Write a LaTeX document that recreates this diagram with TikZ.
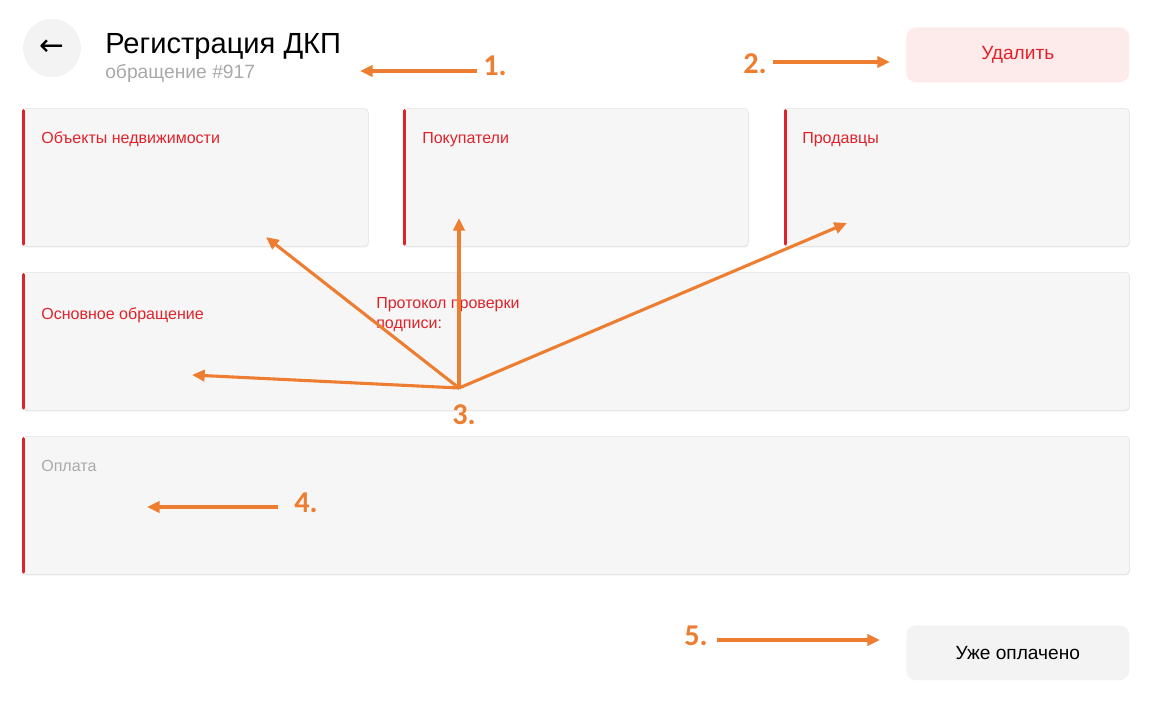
\documentclass[tikz,border=0pt]{standalone}
\usepackage{fontspec}
\setmainfont{Liberation Sans}
\newfontfamily\numfont{Carlito}
\newfontfamily\symfont{DejaVu Sans}
\usetikzlibrary{positioning,arrows.meta,shadows}
\definecolor{uired}{HTML}{E0232B}
\definecolor{cardbg}{HTML}{F6F6F6}
\definecolor{cardline}{HTML}{E3E3E3}
\definecolor{calloutorange}{HTML}{ED7D31}
\definecolor{pinkbg}{HTML}{FDEAEB}
\definecolor{subgray}{HTML}{A9A9A9}
\definecolor{backbg}{HTML}{F3F3F3}
\tikzset{
  card/.style={draw=cardline, fill=cardbg, rounded corners=3pt, anchor=north west, inner sep=0pt,
    minimum height=3.45cm, drop shadow={shadow xshift=0.2pt, shadow yshift=-0.8pt, fill=black!35, opacity=0.25}},
  redbar/.style={uired, line width=2.2pt, line cap=round},
  cardtitle/.style={anchor=base west, inner sep=0pt, text=uired, font=\fontsize{11.4}{13}\selectfont},
  btn/.style={rounded corners=7pt, anchor=north west, minimum width=5.575cm, minimum height=1.375cm,
    inner sep=0pt, font=\fontsize{13.6}{15}\selectfont},
  backbtn/.style={circle, fill=backbg, minimum size=1.45cm, inner sep=0pt, font=\symfont\fontsize{21}{22}\selectfont},
  callout/.style={calloutorange, line width=2.2pt, -{Triangle[length=9pt,width=8pt]}},
  num/.style={text=calloutorange, font=\numfont\bfseries\fontsize{21.5}{24}\selectfont, inner sep=0pt, anchor=base west},
}
\begin{document}
\begin{tikzpicture}[x=0.025cm,y=-0.025cm]
  \useasboundingbox (0,0) rectangle (1160,704);
  % header
  \node[backbtn] (back) at (52,48) {←};
  \node[anchor=base west, inner sep=0pt, font=\fontsize{20.7}{24}\selectfont] (title) at (105,53) {Регистрация ДКП};
  \node[anchor=base west, inner sep=0pt, text=subgray, font=\fontsize{13.7}{16}\selectfont] (sub) at (105,78) {обращение \#917};
  \node[btn, fill=pinkbg, text=uired] (del) at (906,27) {Удалить};
  % cards
  \node[card, minimum width=8.65cm] (obj) at (22,108) {};
  \node[card, minimum width=8.625cm] (pok) at (403,108) {};
  \node[card, minimum width=8.625cm] (prod) at (784,108) {};
  \node[card, minimum width=27.675cm] (main) at (22,272) {};
  \node[card, minimum width=27.675cm] (pay) at (22,436) {};
  \foreach \c in {obj,pok,prod,main,pay}
    \draw[redbar] ([xshift=1pt,yshift=-1.8pt]\c.north west) -- ([xshift=1pt,yshift=1.8pt]\c.south west);
  \node[cardtitle] (objt) at ([shift={(19,35)}]obj.north west) {Объекты недвижимости};
  \node[cardtitle] (pokt) at ([shift={(19,35)}]pok.north west) {Покупатели};
  \node[cardtitle] (prodt) at ([shift={(18,35)}]prod.north west) {Продавцы};
  \node[cardtitle] (maint) at ([shift={(19,47)}]main.north west) {Основное обращение};
  \node[cardtitle, anchor=north west, align=left] (proto) at ([shift={(354,25)}]main.north west) {Протокол проверки\\[1pt]подписи:};
  \node[cardtitle, text=subgray] (payt) at ([shift={(19,35)}]pay.north west) {Оплата};
  \node[btn, fill=backbg] (paid) at (906,625) {Уже оплачено};
  % callouts
  \coordinate (t1) at (477,71); \coordinate (h1) at (360,71);
  \coordinate (t2) at (773,62); \coordinate (h2) at (890,62);
  \coordinate (o3) at (459,388);
  \coordinate (h3a) at (266,237); \coordinate (h3b) at (459,218);
  \coordinate (h3c) at (847,223); \coordinate (h3d) at (192,375);
  \coordinate (t4) at (278,507); \coordinate (h4) at (147,507);
  \coordinate (t5) at (717,640); \coordinate (h5) at (880,640);
  \draw[callout] (t1) -- (h1);
  \draw[callout] (t2) -- (h2);
  \foreach \h in {h3a,h3b,h3c,h3d}
    \draw[callout] (o3) -- (\h);
  \draw[callout] (t4) -- (h4);
  \draw[callout] (t5) -- (h5);
  \node[num] (n1) at (483,75) {1.};
  \node[num] (n2) at (743,73) {2.};
  \node[num] (n3) at (452,424) {3.};
  \node[num] (n4) at (294,512) {4.};
  \node[num] (n5) at (684,645) {5.};
\end{tikzpicture}
\end{document}
